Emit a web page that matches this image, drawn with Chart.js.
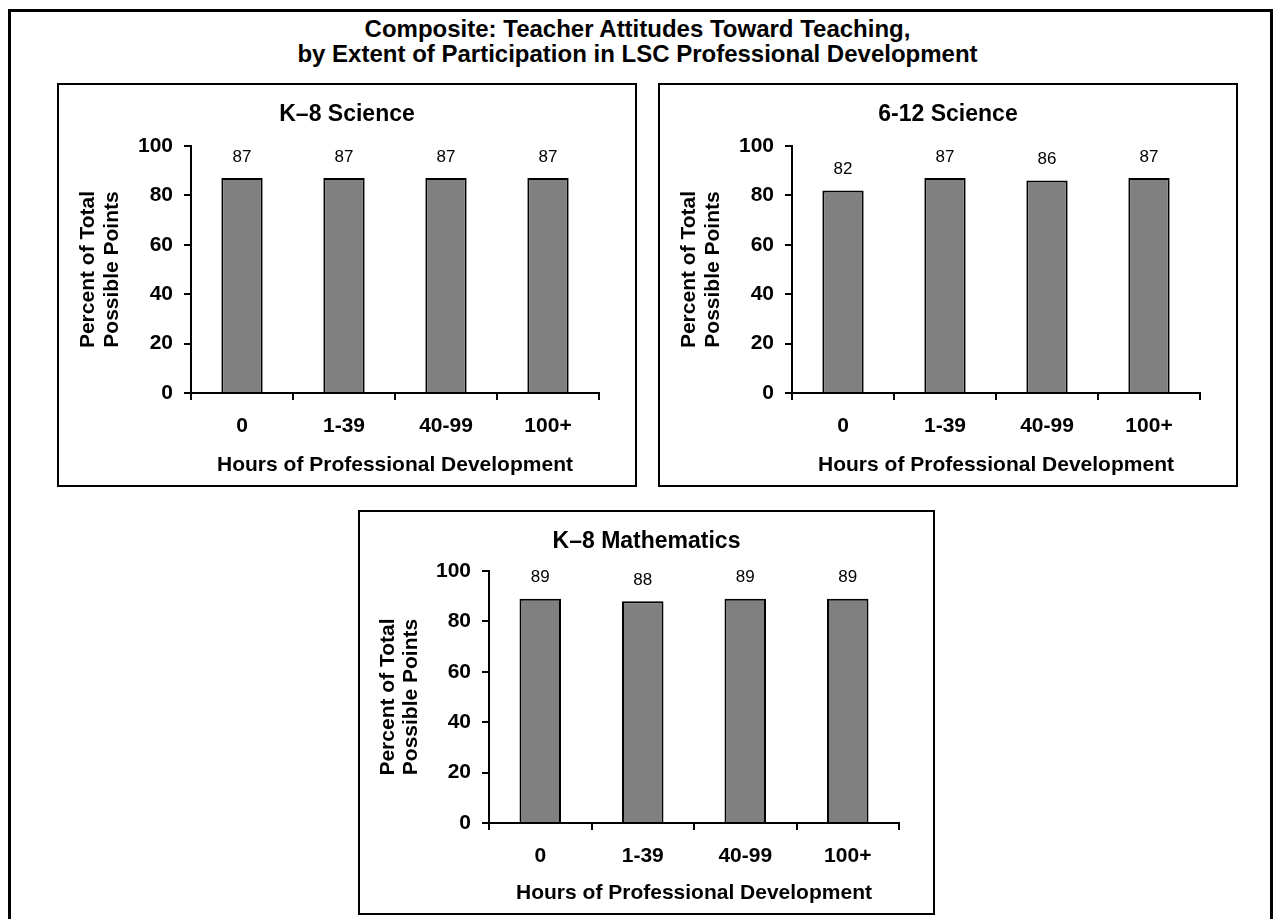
<!DOCTYPE html>
<html lang="en">
<head>
<meta charset="UTF-8">
<title>Composite: Teacher Attitudes Toward Teaching</title>
<script src="https://cdn.jsdelivr.net/npm/chart.js"></script>
<style>
  body { margin: 0; background: #fff; font-family: "Liberation Sans", Arial, sans-serif; }
  #page { position: relative; width: 1275px; height: 919px; overflow: hidden; }
  #frame { position: absolute; left: 8px; top: 9px; width: 1265px; height: 940px; border: 3px solid #000; box-sizing: border-box; }
  #title { position: absolute; left: 0; top: 16px; width: 1275px; text-align: center; font-weight: bold; font-size: 24px; line-height: 25px; color: #000; }
  .panel { position: absolute; border: 2px solid #000; box-sizing: border-box; }
  .panel canvas { position: absolute; left: 0; top: 0; }
</style>
</head>
<body>
<div id="page">
  <div id="frame"></div>
  <div id="title">Composite: Teacher Attitudes Toward Teaching,<br>by Extent of Participation in LSC Professional Development</div>

  <div class="panel" style="left:57px; top:83px; width:580px; height:404px;">
    <canvas id="k8sci" width="576" height="400"></canvas>
  </div>
  <div class="panel" style="left:658px; top:83px; width:580px; height:404px;">
    <canvas id="sci612" width="576" height="400"></canvas>
  </div>
  <div class="panel" style="left:358px; top:510px; width:577px; height:405px;">
    <canvas id="k8math" width="573" height="401"></canvas>
  </div>
</div>

<script>
// data
const categories = ['0', '1-39', '40-99', '100+'];
const k8Science = [87, 87, 87, 87];
const science612 = [82, 87, 86, 87];
const k8Math = [89, 88, 89, 89];
const yMin = 0, yMax = 100, yStep = 20;

const yTitle = ['Percent of Total', 'Possible Points'];
const xTitle = 'Hours of Professional Development';

Chart.defaults.font.family = '"Liberation Sans", Arial, sans-serif';
Chart.defaults.color = '#000';

// numbers above each bar
const valueLabels = {
  id: 'valueLabels',
  afterDatasetsDraw(chart) {
    const ctx = chart.ctx;
    const meta = chart.getDatasetMeta(0);
    const values = chart.data.datasets[0].data;
    ctx.save();
    ctx.font = '17px "Liberation Sans", Arial, sans-serif';
    ctx.fillStyle = '#000';
    ctx.textAlign = 'center';
    ctx.textBaseline = 'middle';
    meta.data.forEach((bar, i) => {
      ctx.fillText(values[i], bar.x, bar.y - 21);
    });
    ctx.restore();
  }
};

// panel heading, centred on the whole box (not just the plot)
const panelTitle = {
  id: 'panelTitle',
  afterDraw(chart, args, opts) {
    const ctx = chart.ctx;
    ctx.save();
    ctx.font = 'bold 23px "Liberation Sans", Arial, sans-serif';
    ctx.fillStyle = '#000';
    ctx.textAlign = 'center';
    ctx.textBaseline = 'middle';
    ctx.fillText(opts.text, chart.width / 2, opts.y);
    ctx.restore();
  }
};

// g: fixed sizes so the plot area lands where it does in the picture
function makeChart(id, title, values, g) {
  const ctx = document.getElementById(id).getContext('2d');
  return new Chart(ctx, {
    type: 'bar',
    data: {
      labels: categories,
      datasets: [{
        data: values,
        backgroundColor: '#808080',
        borderColor: '#000',
        borderWidth: 2,
        barPercentage: 0.405,
        categoryPercentage: 1
      }]
    },
    options: {
      responsive: false,
      animation: false,
      layout: { padding: { left: 0, right: g.right, top: g.top, bottom: 0 } },
      plugins: {
        legend: { display: false },
        tooltip: { enabled: false },
        title: { display: false },
        panelTitle: { text: title, y: g.titleY }
      },
      scales: {
        x: {
          grid: { drawOnChartArea: false, drawTicks: true, tickLength: 7, color: '#000', lineWidth: 2, offset: true },
          border: { display: true, color: '#000', width: 2 },
          ticks: { font: { size: 21, weight: 'bold' }, padding: 14, maxRotation: 0 },
          title: { display: true, text: xTitle, font: { size: 21, weight: 'bold' }, padding: { top: 0, bottom: 7.4 } },
          afterFit(scale) { scale.height = g.xHeight; }
        },
        y: {
          min: yMin,
          max: yMax,
          ticks: { stepSize: yStep, font: { size: 21, weight: 'bold' }, padding: 11 },
          grid: { drawOnChartArea: false, drawTicks: true, tickLength: 7, color: '#000', lineWidth: 2 },
          border: { display: true, color: '#000', width: 2 },
          title: { display: true, text: yTitle, font: { size: 21, weight: 'bold', lineHeight: 1.12 }, padding: { top: g.yTitlePad, bottom: 0 } },
          afterFit(scale) { scale.width = g.yWidth; }
        }
      }
    },
    plugins: [valueLabels, panelTitle]
  });
}

makeChart('k8sci', 'K\u20138 Science', k8Science,
  { yWidth: 132, right: 36, top: 61, xHeight: 92, titleY: 30, yTitlePad: 17.5 });
makeChart('sci612', '6-12 Science', science612,
  { yWidth: 132, right: 36, top: 61, xHeight: 92, titleY: 30, yTitlePad: 17.5 });
makeChart('k8math', 'K\u20138 Mathematics', k8Math,
  { yWidth: 129, right: 34, top: 59, xHeight: 90, titleY: 30, yTitlePad: 16 });
</script>
</body>
</html>
